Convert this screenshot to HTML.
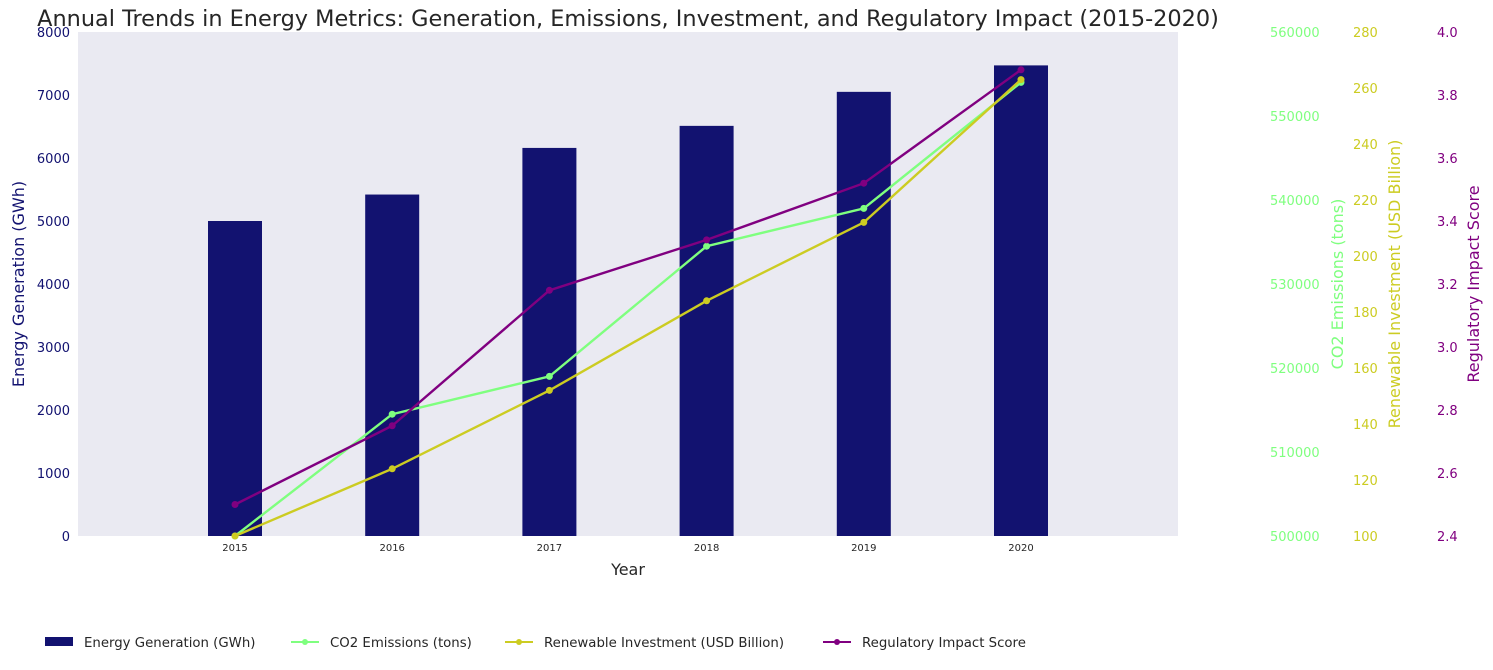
<!DOCTYPE html>
<html><head><meta charset="utf-8"><style>
body{margin:0;background:#fff;font-family:"Liberation Sans","DejaVu Sans",sans-serif;}
svg text{font-family:"DejaVu Sans","Liberation Sans",sans-serif;}
</style></head><body>
<svg id="c" width="1493" height="665"></svg>
<script>
const years=["2015","2016","2017","2018","2019","2020"];
const energy=[5000,5420,6160,6510,7050,7470];
const co2=[500000,514500,519000,534500,539000,554000];
const invest=[100,124,152,184,212,263];
const reg=[2.5,2.75,3.18,3.34,3.52,3.88];
const energyTicks=[0,1000,2000,3000,4000,5000,6000,7000,8000];
const co2Ticks=[500000,510000,520000,530000,540000,550000,560000];
const invTicks=[100,120,140,160,180,200,220,240,260,280];
const regTicks=[2.4,2.6,2.8,3.0,3.2,3.4,3.6,3.8,4.0];

const svg=document.getElementById('c');const NS="http://www.w3.org/2000/svg";
function el(t,a,txt){const e=document.createElementNS(NS,t);for(const k in a)e.setAttribute(k,a[k]);if(txt!==undefined)e.textContent=txt;svg.appendChild(e);return e;}
const X0=78,X1=1178,Y0=536,Y1=32;
const xs=i=>235+i*157.2;
const yE=v=>Y0-(v/8000)*(Y0-Y1);
const yC=v=>Y0-((v-500000)/60000)*(Y0-Y1);
const yI=v=>Y0-((v-100)/180)*(Y0-Y1);
const yR=v=>Y0-((v-2.4)/1.6)*(Y0-Y1);

let p=el('rect',{x:X0,y:Y1,width:X1-X0,height:Y0-Y1,fill:'#eaeaf2'});


let t=el('text',{x:628,y:26,'font-size':22.4,fill:'#262626','text-anchor':'middle'},'Annual Trends in Energy Metrics: Generation, Emissions, Investment, and Regulatory Impact (2015-2020)');



energy.forEach((v,i)=>{const r=el('rect',{x:xs(i)-27,y:yE(v),width:54,height:Y0-yE(v),fill:'#121270'});


const tx=el('text',{x:xs(i),y:551,'font-size':10,fill:'#262626','text-anchor':'middle'},years[i]);

});

energyTicks.forEach(v=>{const tx=el('text',{x:70,y:yE(v)+5,'font-size':13,fill:'#121270','text-anchor':'end'},v);

});
co2Ticks.forEach(v=>{const tx=el('text',{x:1270,y:yC(v)+5,'font-size':13,fill:'#7fff7f'},v);

});
invTicks.forEach(v=>{const tx=el('text',{x:1353,y:yI(v)+5,'font-size':13,fill:'#cccc22'},v);

});
regTicks.forEach(v=>{const tx=el('text',{x:1437,y:yR(v)+5,'font-size':13,fill:'#800080'},v.toFixed(1));

});

function axLabel(x,txt,col,name){const tx=el('text',{x:x,y:284,'font-size':16,fill:col,'text-anchor':'middle',transform:`rotate(-90 ${x} 284)`},txt);

}
axLabel(24,'Energy Generation (GWh)','#121270','y-axis-title-energy');
axLabel(1343,'CO2 Emissions (tons)','#7fff7f','y-axis-title-co2');
axLabel(1400,'Renewable Investment (USD Billion)','#cccc22','y-axis-title-investment');
axLabel(1479,'Regulatory Impact Score','#800080','y-axis-title-regulatory');
let xt=el('text',{x:628,y:575,'font-size':16,fill:'#262626','text-anchor':'middle'},'Year');



function series(arr,f,col,name){const pts=arr.map((v,i)=>xs(i)+','+f(v)).join(' ');
const l=el('polyline',{points:pts,fill:'none',stroke:col,'stroke-width':2.4});


arr.forEach((v,i)=>{const c=el('circle',{cx:xs(i),cy:f(v),r:3.5,fill:col});

});}
series(co2,yC,'#7fff7f','co2');
series(invest,yI,'#cccc22','investment');
series(reg,yR,'#800080','regulatory');

function leg(x,col,txt,bar,name){
if(bar){const r=el('rect',{x:x,y:637,width:28,height:9,fill:'#121270'});}
else{el('line',{x1:x,y1:642,x2:x+28,y2:642,stroke:col,'stroke-width':2});el('circle',{cx:x+14,cy:642,r:3,fill:col});}
const tx=el('text',{x:x+39,y:647,'font-size':13.3,fill:'#262626'},txt);

}
leg(45,'#121270','Energy Generation (GWh)',true,'legend-entry-energy');
leg(291,'#7fff7f','CO2 Emissions (tons)',false,'legend-entry-co2');
leg(505,'#cccc22','Renewable Investment (USD Billion)',false,'legend-entry-investment');
leg(823,'#800080','Regulatory Impact Score',false,'legend-entry-regulatory');
</script></body></html>
